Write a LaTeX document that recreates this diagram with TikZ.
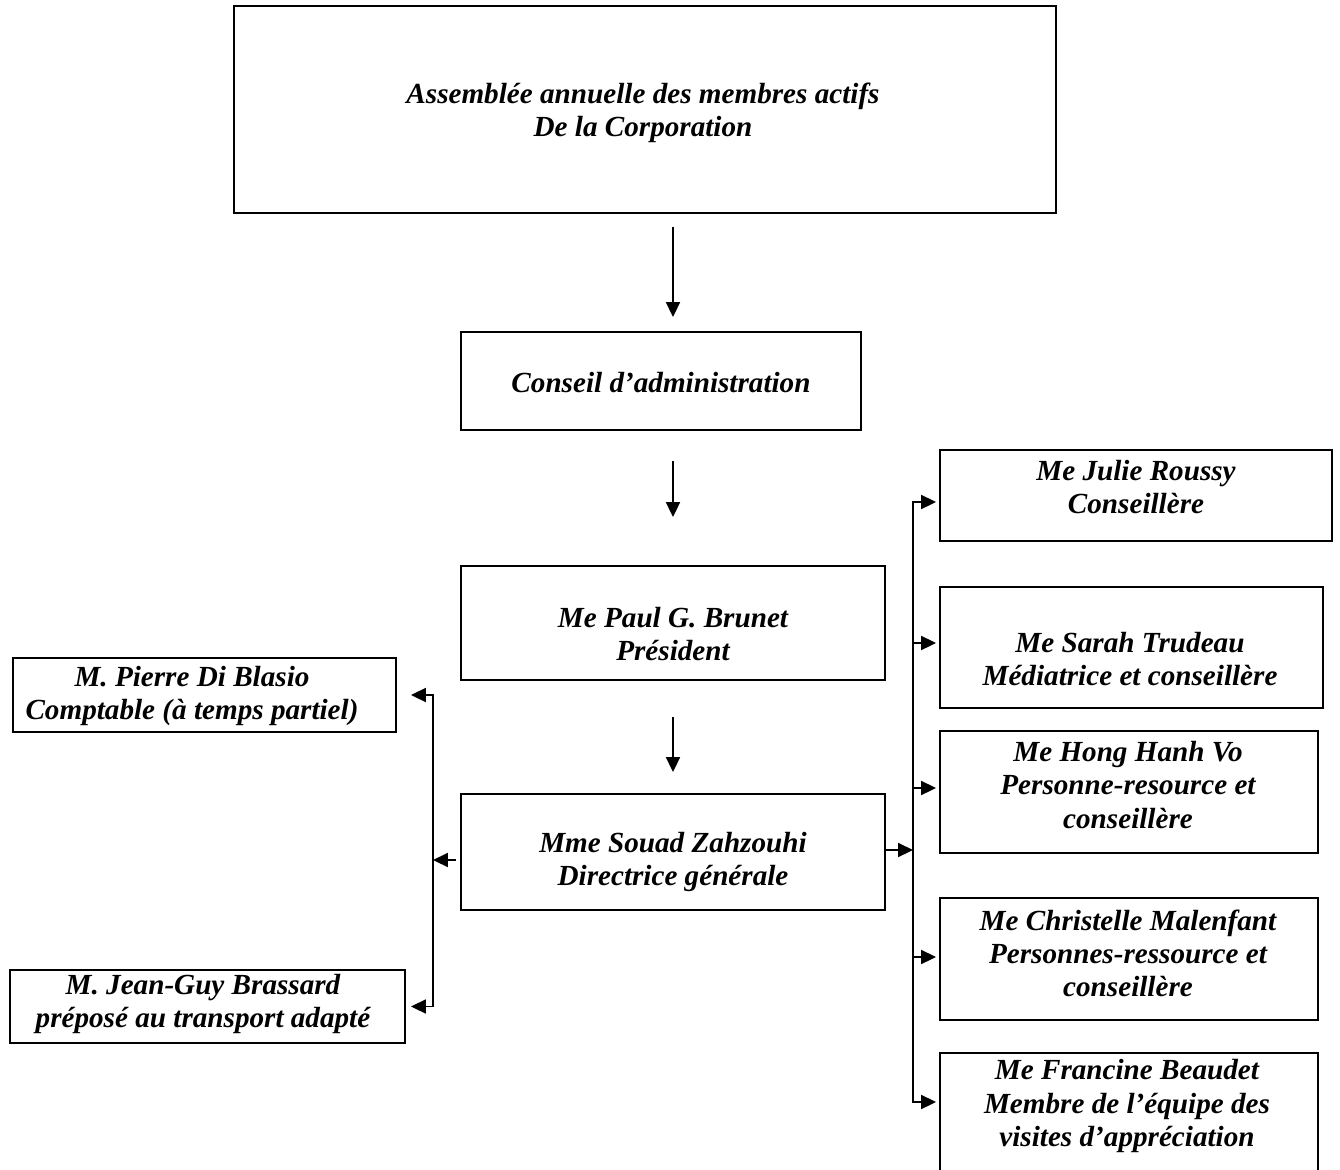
\documentclass[tikz,border=0pt]{standalone}
\usepackage{fontspec}
\setmainfont{Liberation Serif}
\usetikzlibrary{arrows.meta, fit, shadows, calc}
\tikzset{
  obox/.style={draw=black, line width=1.1pt, fill=white, inner sep=0pt,
               drop shadow={shadow xshift=0.8pt, shadow yshift=-0.8pt, fill=black, opacity=1}},
  otxt/.style={font=\fontsize{16.6pt}{18.8pt}\selectfont\bfseries\itshape,
               align=center, inner sep=0pt},
  arr/.style={-{Triangle[length=8.5pt, width=8pt]}, line width=0.9pt},
}

\begin{document}
\begin{tikzpicture}[x=0.02cm, y=-0.02cm]
  \useasboundingbox (0,0) rectangle (1340,1170);
  \foreach \n/\xa/\ya/\xb/\yb/\tx/\ty/\lbl in {
    asm/234/6/1056/213/643/113/{Assemblée annuelle des membres actifs\\De la Corporation},
    ca/461/332/861/430/661/383/{Conseil d’administration},
    pres/461/566/885/680/673/634/{Me Paul G. Brunet\\Président},
    dg/461/794/885/910/673/862/{Mme Souad Zahzouhi\\Directrice générale},
    compt/13/658/396/732/192/696/{M. Pierre Di Blasio\\Comptable (à temps partiel)},
    transp/10/970/405/1043/203/1004/{M. Jean-Guy Brassard\\préposé au transport adapté},
    roussy/940/450/1332/541/1136/487/{Me Julie Roussy\\Conseillère},
    trudeau/940/587/1323/708/1130/659/{Me Sarah Trudeau\\Médiatrice et conseillère},
    vo/940/731/1318/853/1128/785/{Me Hong Hanh Vo\\Personne-resource et\\conseillère},
    malenfant/940/898/1318/1020/1128/953/{Me Christelle Malenfant\\Personnes-ressource et\\conseillère},
    beaudet/940/1053/1318/1190/1127/1106/{Me Francine Beaudet\\Membre de l’équipe des\\visites d’appréciation}}{
    \node[obox, fit={(\xa,\ya) (\xb,\yb)}] (\n) {};
    \node[otxt] (\n-t) at (\tx,\ty) {\lbl};
  }
  \coordinate (lbus) at (433,860);
  \coordinate (rbus) at (913,850);
  \draw[arr, shorten <=0.26cm, shorten >=0.28cm] (asm.south -| pres) -- (ca.north -| pres);
  \draw[arr, shorten <=0.6cm, shorten >=0.96cm] (ca.south -| pres) -- (pres.north);
  \draw[arr, shorten <=0.72cm, shorten >=0.42cm] (pres) -- (dg);
  \draw[arr, shorten <=0.08cm] (dg.west |- lbus) -- (lbus);
  \draw[arr, shorten >=0.28cm] (lbus) |- (compt.east);
  \draw[arr, shorten >=0.1cm] (lbus) |- (transp.east);
  \draw[arr] (dg.east |- rbus) -- (rbus);
  \foreach \n/\y in {roussy/502, trudeau/643, vo/788, malenfant/957, beaudet/1102}
    \draw[arr, shorten >=0.06cm] (rbus) |- (\n.west |- 0,\y);
\end{tikzpicture}
\end{document}
